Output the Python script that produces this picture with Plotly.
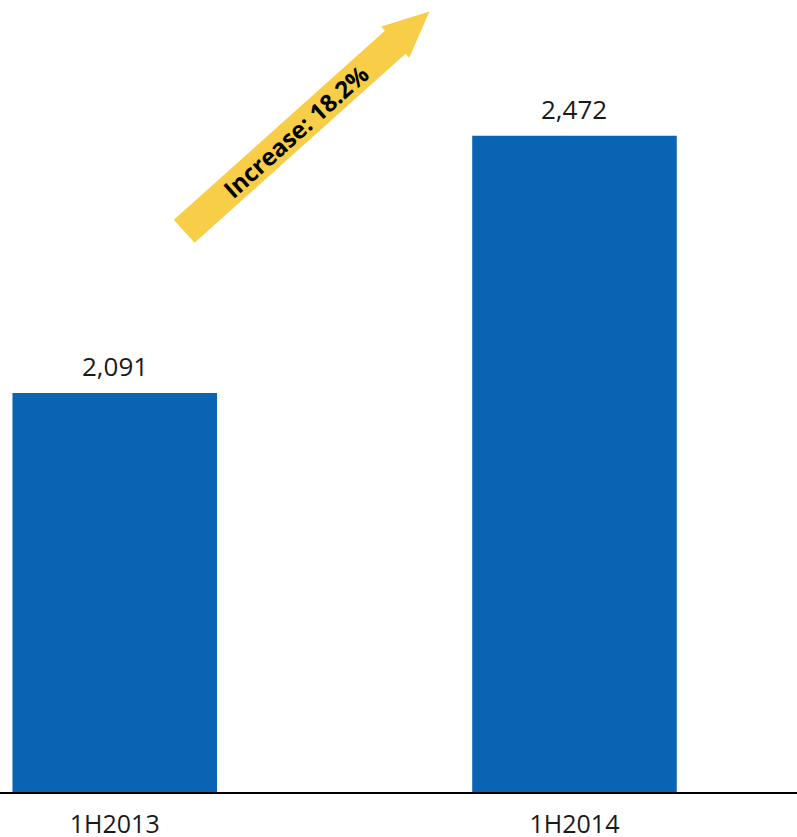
import math
import plotly.graph_objects as go

# Half-year totals
periods = ["1H2013", "1H2014"]
totals = [2091, 2472]
growth_label = "Increase: 18.2%"

W, H = 797, 837
MARGIN_B = 45
PLOT_H = H - MARGIN_B

BAR_COLOR = "#0A63B3"
ARROW_COLOR = "#F8CE48"
FONT = "Open Sans"
TEXT_COLOR = "#1A1A1A"

fig = go.Figure()
fig.add_trace(go.Bar(
    x=periods,
    y=totals,
    width=0.445,
    marker=dict(color=BAR_COLOR, line=dict(width=0)),
    hoverinfo="skip",
))

# value labels above each bar
for p, v in zip(periods, totals):
    fig.add_annotation(
        x=p, y=v, xref="x", yref="y",
        text=f"{v:,}", showarrow=False,
        xanchor="center", yanchor="bottom", yshift=7,
        font=dict(family=FONT, size=26, color=TEXT_COLOR),
    )


# growth arrow, defined in pixel space of the plotting area
def px(x, y):
    return x / W, 1 - y / PLOT_H


tail = (184.2, 231.3)
tip = (429.5, 11.5)
shaft_half, head_half, head_len = 15.5, 21.0, 46.0
dx, dy = tip[0] - tail[0], tip[1] - tail[1]
L = math.hypot(dx, dy)
ux, uy = dx / L, dy / L
nx, ny = -uy, ux
bx, by = tip[0] - ux * head_len, tip[1] - uy * head_len
pts = [
    (tail[0] + nx * shaft_half, tail[1] + ny * shaft_half),
    (bx + nx * shaft_half, by + ny * shaft_half),
    (bx + nx * head_half, by + ny * head_half),
    tip,
    (bx - nx * head_half, by - ny * head_half),
    (bx - nx * shaft_half, by - ny * shaft_half),
    (tail[0] - nx * shaft_half, tail[1] - ny * shaft_half),
]
path = "M " + " L ".join("{:.5f},{:.5f}".format(*px(*p)) for p in pts) + " Z"
fig.add_shape(type="path", path=path, xref="paper", yref="paper",
              fillcolor=ARROW_COLOR, line=dict(width=0), layer="above")

angle = math.degrees(math.atan2(-dy, dx))
cx, cy = px(295, 131)
fig.add_annotation(
    x=cx, y=cy, xref="paper", yref="paper",
    xanchor="center", yanchor="middle",
    text=f"<b>{growth_label}</b>", showarrow=False,
    textangle=-angle,
    font=dict(family=FONT, size=24, color="#000000"),
)

fig.update_layout(
    width=W, height=H,
    margin=dict(l=0, r=0, t=0, b=MARGIN_B),
    paper_bgcolor="white", plot_bgcolor="white",
    showlegend=False,
    xaxis=dict(
        range=[-0.2496, 1.484],
        automargin=False,
        showline=True, linecolor="#000000", linewidth=2,
        showgrid=False, zeroline=False, ticks="",
        tickfont=dict(family=FONT, size=25, color=TEXT_COLOR),
        ticklabelstandoff=9,
    ),
    yaxis=dict(
        range=[1500, 2673],
        automargin=False,
        visible=False, showgrid=False, zeroline=False,
    ),
)

fig.write_html("out.html")
